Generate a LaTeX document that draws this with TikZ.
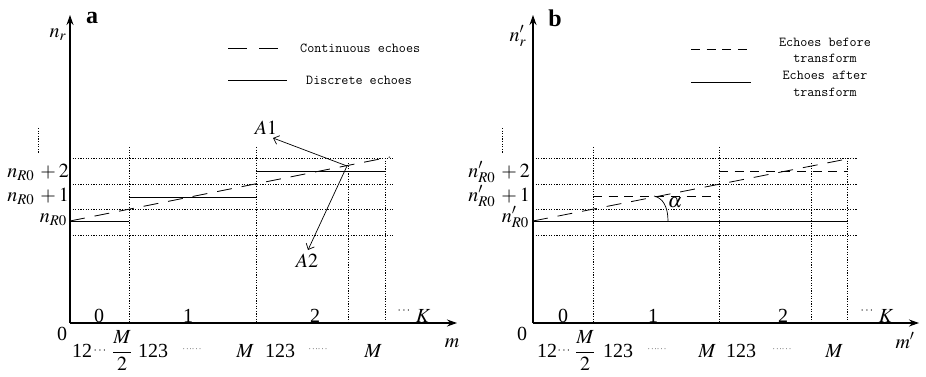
\documentclass[tikz,border=0pt]{standalone}
\usepackage{mathptmx}
\usepackage{fontspec}
\setmainfont{Liberation Serif}
\usetikzlibrary{arrows.meta}
\begin{document}
\begin{tikzpicture}[x=1pt,y=-1pt,
  ax/.style={line width=1.1pt,-{Stealth[length=10pt,width=7pt]}},
  gridline/.style={line width=0.7pt, dash pattern=on 1.2pt off 1.4pt},
  longdash/.style={line width=0.8pt, dash pattern=on 15pt off 10pt},
  shortdash/.style={line width=0.8pt, dash pattern=on 9pt off 6.6pt},
  legdash/.style={line width=0.8pt, dash pattern=on 19pt off 12pt},
  solidseg/.style={line width=0.8pt},
  pointer/.style={line width=0.7pt,-{Straight Barb[length=5pt,width=9pt]}},
  lbl/.style={inner sep=0pt, font=\fontsize{20}{22}\selectfont},
  ylbl/.style={lbl, anchor=base east, text height=11pt, text depth=3pt},
  panel/.style={inner sep=0pt, font=\bfseries\fontsize{24}{26}\selectfont},
  leg/.style={inner sep=0pt, font=\ttfamily\fontsize{13.7}{16}\selectfont},
  smalldots/.style={inner sep=0pt, font=\fontsize{12}{12}\selectfont},
  tinydots/.style={inner sep=0pt, font=\fontsize{9}{9}\selectfont}
]
\useasboundingbox (0,0) rectangle (926,377);

% ================= Panel a =================
\coordinate (aO) at (70,323);
\coordinate (aYT) at (70,15);
\coordinate (aXT) at (457,323);
\foreach \yy in {158,184,209,235} \draw[gridline] (70,\yy) -- (393,\yy);
\draw[gridline] (129,147) -- (129,323);
\draw[gridline] (256,147) -- (256,323);
\draw[gridline] (348,163) -- (348,323);
\draw[gridline] (385,158) -- (385,323);
\draw[gridline] (38,128) -- (38,153);
\draw[ax] (aO) -- (aYT);
\draw[ax] (aO) -- (aXT);
\draw[solidseg] (70,221) -- (129,221);
\draw[solidseg] (129,197) -- (256,197);
\draw[solidseg] (256,171) -- (385,171);
\draw[longdash] (70,221) -- (390,157);
\coordinate (aP) at (347,166);
\coordinate (aT1) at (273,138);
\coordinate (aT2) at (308,250);
\draw[pointer] (aP) -- (aT1);
\draw[pointer] (aP) -- (aT2);
\node[lbl] (aA1) at (266,128) {$A1$};
\node[lbl] (aA2) at (307,261) {$A2$};
\node[lbl] (anr) at (58,35) {$n_r$};
\node[panel] (apan) at (92,18) {a};
\node[ylbl] (ay2) at (69,177) {$n_{R0}\mkern3mu+2$};
\node[ylbl] (ay1) at (69,201) {$n_{R0}\mkern3mu+1$};
\node[ylbl] (ay0) at (67,222) {$n_{R0}$};
\node[lbl] (a0) at (62,334) {0};
\node[lbl,anchor=base] (as0) at (99,322) {0};
\node[lbl,anchor=base] (as1) at (188,322) {1};
\node[lbl,anchor=base] (as2) at (315,322) {2};
\node[smalldots] (asd) at (404,311) {$\cdots$};
\node[lbl,anchor=base] (aK) at (423,322) {$K$};
\node[lbl,anchor=base] (am) at (452,347) {$m$};
\node[lbl,anchor=base] (ab12) at (82,357) {12};
\node[smalldots] (abd1) at (100,351) {$\cdots$};
\node[lbl,anchor=base] (abfr) at (122,357) {$\displaystyle\frac{M}{2}$};
\node[lbl,anchor=base] (ab123a) at (153,357) {123};
\node[tinydots] (abd2) at (192,350) {$\cdots\!\cdots$};
\node[lbl,anchor=base] (abM1) at (245,357) {$M$};
\node[lbl,anchor=base] (ab123b) at (280,357) {123};
\node[tinydots] (abd3) at (318,350) {$\cdots\!\cdots$};
\node[lbl,anchor=base] (abM2) at (373,357) {$M$};
\coordinate (aL1s) at (228,48); \coordinate (aL1e) at (278,48);
\coordinate (aL2s) at (228,80); \coordinate (aL2e) at (287,80);
\draw[legdash] (aL1s) -- (aL1e);
\draw[solidseg] (aL2s) -- (aL2e);
\node[leg,anchor=base west] (aleg1) at (300,53) {Continuous echoes};
\node[leg,anchor=base west] (aleg2) at (306,85) {Discrete echoes};

% ================= Panel b =================
\coordinate (bO) at (533,323);
\coordinate (bYT) at (533,15);
\coordinate (bXT) at (919,323);
\foreach \yy in {158,184,209,235} \draw[gridline] (533,\yy) -- (857,\yy);
\draw[gridline] (593,147) -- (593,323);
\draw[gridline] (719,147) -- (719,323);
\draw[gridline] (811,163) -- (811,323);
\draw[gridline] (847,158) -- (847,323);
\draw[gridline] (502,128) -- (502,153);
\draw[ax] (bO) -- (bYT);
\draw[ax] (bO) -- (bXT);
\draw[solidseg] (533,221) -- (847,221);
\draw[shortdash] (593,196) -- (719,196);
\draw[shortdash] (719,171) -- (847,171);
\draw[longdash] (533,221) -- (852,158);
\draw[line width=0.7pt] (668,221) .. controls (668,207) and (663,198) .. (654,196);
\node[lbl] (balpha) at (675,203) {$\alpha$};
\node[lbl] (bnr) at (518,36) {$n'_r$};
\node[panel] (bpan) at (555,18) {b};
\node[ylbl] (by2) at (530,177) {$n'_{R0}\mkern3mu+2$};
\node[ylbl] (by1) at (530,201) {$n'_{R0}\mkern3mu+1$};
\node[ylbl] (by0) at (529,222) {$n'_{R0}$};
\node[lbl] (b0) at (522,334) {0};
\node[lbl,anchor=base] (bs0) at (563,322) {0};
\node[lbl,anchor=base] (bs1) at (653,322) {1};
\node[lbl,anchor=base] (bs2) at (783,322) {2};
\node[smalldots] (bsd) at (867,311) {$\cdots$};
\node[lbl,anchor=base] (bK) at (886,322) {$K$};
\node[lbl,anchor=base] (bm) at (905,348) {$m'$};
\node[lbl,anchor=base] (bb12) at (547,357) {12};
\node[smalldots] (bbd1) at (564,351) {$\cdots$};
\node[lbl,anchor=base] (bbfr) at (585,357) {$\displaystyle\frac{M}{2}$};
\node[lbl,anchor=base] (bb123a) at (618,357) {123};
\node[tinydots] (bbd2) at (657,350) {$\cdots\!\cdots$};
\node[lbl,anchor=base] (bbM1) at (707,357) {$M$};
\node[lbl,anchor=base] (bb123b) at (741,357) {123};
\node[tinydots] (bbd3) at (782,350) {$\cdots\!\cdots$};
\node[lbl,anchor=base] (bbM2) at (834,357) {$M$};
\coordinate (bL1s) at (691,49); \coordinate (bL1e) at (747,49);
\coordinate (bL2s) at (691,82); \coordinate (bL2e) at (751,82);
\draw[shortdash] (bL1s) -- (bL1e);
\draw[solidseg] (bL2s) -- (bL2e);
\node[leg,anchor=base] (bleg1) at (825,47) {Echoes before};
\node[leg,anchor=base] (bleg2) at (825,63) {transform};
\node[leg,anchor=base] (bleg3) at (825,80) {Echoes after};
\node[leg,anchor=base] (bleg4) at (825,97) {transform};
\end{tikzpicture}
\end{document}
